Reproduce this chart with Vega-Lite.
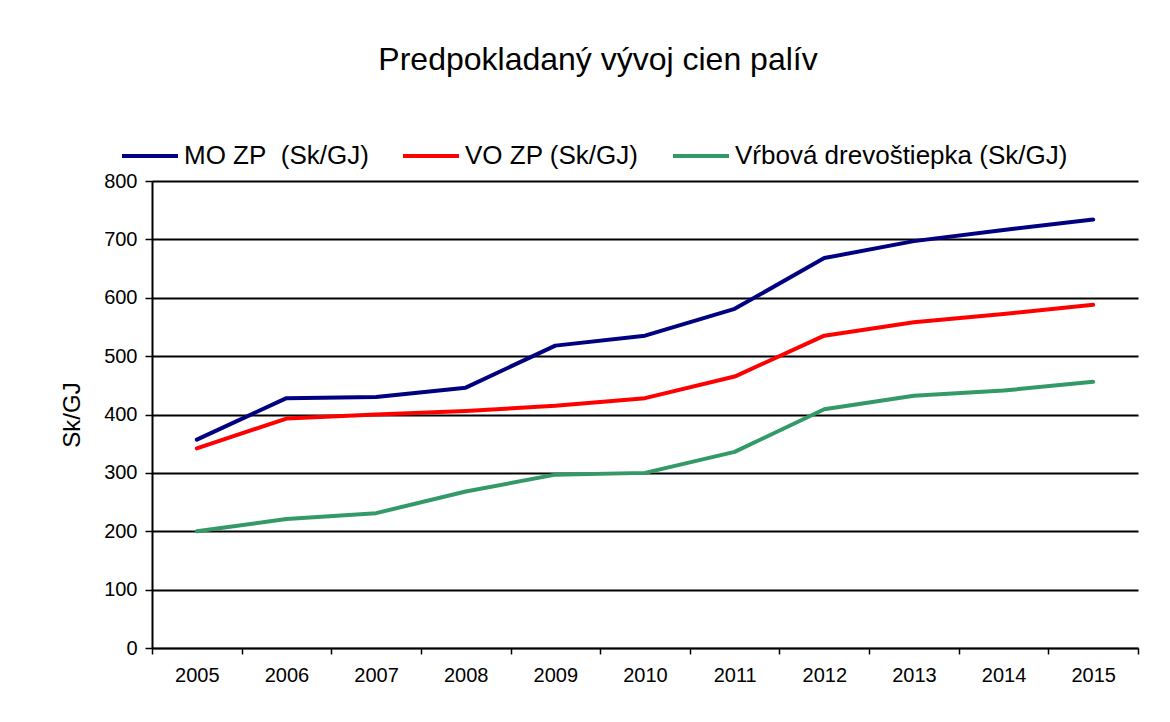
{
  "$schema": "https://vega.github.io/schema/vega-lite/v6.json",
  "autosize": "none",
  "width": 986,
  "height": 467,
  "padding": {"left": 152, "top": 181, "right": 32, "bottom": 74},
  "background": "white",
  "title": {
    "text": "Predpokladaný vývoj cien palív",
    "font": "Liberation Sans",
    "fontSize": 32,
    "fontWeight": "normal",
    "color": "black",
    "anchor": "middle",
    "frame": "group",
    "dx": -47,
    "offset": 49
  },
  "data": {
    "values": [
      {"rok": "2005", "s": "MO ZP  (Sk/GJ)", "v": 357},
      {"rok": "2006", "s": "MO ZP  (Sk/GJ)", "v": 428},
      {"rok": "2007", "s": "MO ZP  (Sk/GJ)", "v": 430},
      {"rok": "2008", "s": "MO ZP  (Sk/GJ)", "v": 446},
      {"rok": "2009", "s": "MO ZP  (Sk/GJ)", "v": 518},
      {"rok": "2010", "s": "MO ZP  (Sk/GJ)", "v": 535},
      {"rok": "2011", "s": "MO ZP  (Sk/GJ)", "v": 581},
      {"rok": "2012", "s": "MO ZP  (Sk/GJ)", "v": 668},
      {"rok": "2013", "s": "MO ZP  (Sk/GJ)", "v": 697},
      {"rok": "2014", "s": "MO ZP  (Sk/GJ)", "v": 716},
      {"rok": "2015", "s": "MO ZP  (Sk/GJ)", "v": 734},
      {"rok": "2005", "s": "VO ZP (Sk/GJ)", "v": 342},
      {"rok": "2006", "s": "VO ZP (Sk/GJ)", "v": 393},
      {"rok": "2007", "s": "VO ZP (Sk/GJ)", "v": 400},
      {"rok": "2008", "s": "VO ZP (Sk/GJ)", "v": 406},
      {"rok": "2009", "s": "VO ZP (Sk/GJ)", "v": 415},
      {"rok": "2010", "s": "VO ZP (Sk/GJ)", "v": 428},
      {"rok": "2011", "s": "VO ZP (Sk/GJ)", "v": 465},
      {"rok": "2012", "s": "VO ZP (Sk/GJ)", "v": 535},
      {"rok": "2013", "s": "VO ZP (Sk/GJ)", "v": 558},
      {"rok": "2014", "s": "VO ZP (Sk/GJ)", "v": 572},
      {"rok": "2015", "s": "VO ZP (Sk/GJ)", "v": 588},
      {"rok": "2005", "s": "Vŕbová drevoštiepka (Sk/GJ)", "v": 200},
      {"rok": "2006", "s": "Vŕbová drevoštiepka (Sk/GJ)", "v": 221},
      {"rok": "2007", "s": "Vŕbová drevoštiepka (Sk/GJ)", "v": 231},
      {"rok": "2008", "s": "Vŕbová drevoštiepka (Sk/GJ)", "v": 268},
      {"rok": "2009", "s": "Vŕbová drevoštiepka (Sk/GJ)", "v": 297},
      {"rok": "2010", "s": "Vŕbová drevoštiepka (Sk/GJ)", "v": 300},
      {"rok": "2011", "s": "Vŕbová drevoštiepka (Sk/GJ)", "v": 336},
      {"rok": "2012", "s": "Vŕbová drevoštiepka (Sk/GJ)", "v": 409},
      {"rok": "2013", "s": "Vŕbová drevoštiepka (Sk/GJ)", "v": 432},
      {"rok": "2014", "s": "Vŕbová drevoštiepka (Sk/GJ)", "v": 441},
      {"rok": "2015", "s": "Vŕbová drevoštiepka (Sk/GJ)", "v": 456}
    ]
  },
  "mark": {"type": "line", "strokeWidth": 4, "strokeCap": "round", "strokeJoin": "round"},
  "encoding": {
    "x": {
      "field": "rok",
      "type": "ordinal",
      "bandPosition": 0.5,
      "scale": {"type": "band", "paddingInner": 0, "paddingOuter": 0},
      "axis": {
        "title": null,
        "labelAngle": 0,
        "tickBand": "extent",
        "tickSize": 6,
        "tickWidth": 1.5,
        "tickColor": "black",
        "domainColor": "black",
        "domainWidth": 1.5,
        "labelPadding": 11,
        "labelFont": "Liberation Sans",
        "labelFontSize": 20,
        "labelColor": "black",
        "grid": false
      }
    },
    "y": {
      "field": "v",
      "type": "quantitative",
      "scale": {"domain": [0, 800], "nice": false},
      "axis": {
        "title": "Sk/GJ",
        "titleFont": "Liberation Sans",
        "titleFontSize": 24,
        "titleFontWeight": "normal",
        "titleColor": "black",
        "titlePadding": 19,
        "values": [0, 100, 200, 300, 400, 500, 600, 700, 800],
        "tickSize": 7,
        "tickWidth": 1.5,
        "tickColor": "black",
        "domainColor": "black",
        "domainWidth": 2,
        "labelPadding": 8,
        "labelFont": "Liberation Sans",
        "labelFontSize": 20,
        "labelColor": "black",
        "grid": true,
        "gridColor": "black",
        "gridWidth": 2,
        "gridOpacity": 1
      }
    },
    "color": {
      "field": "s",
      "type": "nominal",
      "scale": {
        "domain": ["MO ZP  (Sk/GJ)", "VO ZP (Sk/GJ)", "Vŕbová drevoštiepka (Sk/GJ)"],
        "range": ["#000080", "#ff0000", "#339966"]
      },
      "legend": {
        "title": null,
        "orient": "none",
        "legendX": -32,
        "legendY": -55,
        "direction": "horizontal",
        "columns": 3,
        "symbolType": "stroke",
        "symbolSize": 3136,
        "symbolStrokeWidth": 4,
        "labelFont": "Liberation Sans",
        "labelFontSize": 26,
        "labelColor": "black",
        "labelOffset": 4,
        "labelExpr": "replace(datum.label, '  ', '\u00a0 ')",
        "columnPadding": 26,
        "labelLimit": 500
      }
    }
  },
  "config": {
    "view": {"stroke": null}
  }
}
